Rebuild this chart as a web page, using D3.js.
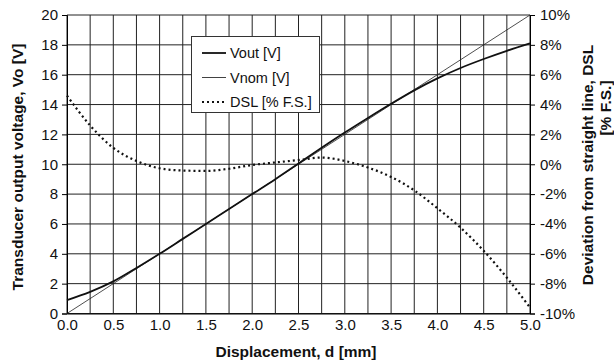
<!DOCTYPE html>
<html>
<head>
<meta charset="utf-8">
<script src="https://d3js.org/d3.v7.min.js"></script>
<style>
  body { margin: 0; background: #fff; }
  text { font-family: "Liberation Sans", Arial, sans-serif; }
</style>
</head>
<body>
<div id="container"></div>
<script>
  // svg dimensions
  width = 614
  height = 364

  // data
  var displacement = [0, 0.25, 0.5, 0.75, 1.0, 1.25, 1.5, 1.75, 2.0, 2.25, 2.5,
                      2.75, 3.0, 3.25, 3.5, 3.75, 4.0, 4.25, 4.5, 4.75, 5.0];
  var vout = [0.9, 1.45, 2.15, 3.05, 4.0, 5.0, 6.0, 7.0, 8.0, 9.0, 10.05,
              11.1, 12.12, 13.1, 14.05, 14.95, 15.75, 16.45, 17.05, 17.6, 18.1];
  var vnomEnds = [0, 5];
  var vnom = [0, 20];
  var dsl = [4.6, 2.6, 1.1, 0.22, -0.27, -0.42, -0.45, -0.3, -0.05, 0.12, 0.28,
             0.45, 0.22, -0.22, -0.85, -1.75, -2.95, -4.25, -5.8, -7.6, -9.6];

  var xTicks = [0, 0.5, 1.0, 1.5, 2.0, 2.5, 3.0, 3.5, 4.0, 4.5, 5.0];
  var xGrid = d3.range(0, 5.001, 0.25);
  var yTicks = [0, 2, 4, 6, 8, 10, 12, 14, 16, 18, 20];
  var y2Ticks = [-10, -8, -6, -4, -2, 0, 2, 4, 6, 8, 10];

  var legendNames = ["Vout [V]", "Vnom [V]", "DSL [% F.S.]"];

  // plot area (note: "top" is taken by window.top)
  var pLeft = 67, pRight = 530, pTop = 15, pBottom = 313.5;

  var x = d3.scaleLinear().domain([0, 5]).range([pLeft, pRight]);
  var y = d3.scaleLinear().domain([0, 20]).range([pBottom, pTop]);
  var y2 = d3.scaleLinear().domain([-10, 10]).range([pBottom, pTop]);

  var svg = d3.select("#container").append("svg")
    .attr("width", width)
    .attr("height", height);

  // grid
  svg.append("g").selectAll("line").data(xGrid).join("line")
    .attr("x1", d => x(d)).attr("x2", d => x(d))
    .attr("y1", pTop).attr("y2", pBottom)
    .attr("stroke", "#222").attr("stroke-width", 1);
  svg.append("g").selectAll("line").data(yTicks).join("line")
    .attr("x1", pLeft).attr("x2", pRight)
    .attr("y1", d => y(d)).attr("y2", d => y(d))
    .attr("stroke", "#222").attr("stroke-width", 1);

  // axes
  var yAxis = d3.axisLeft(y).tickValues(yTicks).tickSize(5).tickPadding(4)
    .tickFormat(d3.format("d"));
  svg.append("g").attr("transform", "translate(" + pLeft + ",0)").call(yAxis)
    .call(g => g.selectAll("text").attr("font-size", 15).attr("fill", "#111")
      .attr("font-family", "Liberation Sans, Arial, sans-serif"));

  var y2Axis = d3.axisRight(y2).tickValues(y2Ticks).tickSize(5).tickPadding(5)
    .tickFormat(d => d + "%");
  svg.append("g").attr("transform", "translate(" + pRight + ",0)").call(y2Axis)
    .call(g => g.selectAll("text").attr("font-size", 15).attr("fill", "#111")
      .attr("font-family", "Liberation Sans, Arial, sans-serif"));

  var xAxis = d3.axisBottom(x).tickValues(xTicks).tickSize(0).tickPadding(6)
    .tickFormat(d3.format(".1f"));
  svg.append("g").attr("transform", "translate(0," + pBottom + ")").call(xAxis)
    .call(g => g.select(".domain").attr("stroke", "#000"))
    .call(g => g.selectAll("text").attr("font-size", 15).attr("fill", "#111")
      .attr("font-family", "Liberation Sans, Arial, sans-serif"));

  // lines
  var lineV = d3.line().x((d, i) => x(displacement[i])).y(d => y(d)).curve(d3.curveMonotoneX);
  var lineD = d3.line().x((d, i) => x(displacement[i])).y(d => y2(d)).curve(d3.curveMonotoneX);

  svg.append("path").datum(dsl)
    .attr("d", lineD)
    .attr("fill", "none")
    .attr("stroke", "#111")
    .attr("stroke-width", 2.2)
    .attr("stroke-dasharray", "2,3");

  svg.append("line")
    .attr("x1", x(vnomEnds[0])).attr("y1", y(vnom[0]))
    .attr("x2", x(vnomEnds[1])).attr("y2", y(vnom[1]))
    .attr("stroke", "#222").attr("stroke-width", 0.8);

  svg.append("path").datum(vout)
    .attr("d", lineV)
    .attr("fill", "none")
    .attr("stroke", "#111")
    .attr("stroke-width", 1.8);

  // legend
  var legend = svg.append("g");
  legend.append("rect")
    .attr("x", 191.5).attr("y", 36.5)
    .attr("width", 128).attr("height", 76)
    .attr("fill", "#fff").attr("stroke", "#333").attr("stroke-width", 1);
  var legendStyle = [
    {w: 1.8, dash: null},
    {w: 0.8, dash: null},
    {w: 2.2, dash: "2,3"}
  ];
  legendNames.forEach(function(name, i) {
    var ly = 53 + i * 24.5;
    legend.append("line")
      .attr("x1", 202).attr("x2", 226)
      .attr("y1", ly).attr("y2", ly)
      .attr("stroke", "#111")
      .attr("stroke-width", legendStyle[i].w)
      .attr("stroke-dasharray", legendStyle[i].dash);
    legend.append("text")
      .attr("x", 230).attr("y", ly + 5)
      .attr("font-size", 14.5)
      .attr("fill", "#111")
      .text(name);
  });

  // axis titles
  svg.append("text")
    .attr("transform", "translate(23,167) rotate(-90)")
    .attr("text-anchor", "middle")
    .attr("font-size", 15.5)
    .attr("font-weight", "bold")
    .attr("fill", "#111")
    .text("Transducer output voltage, Vo [V]");

  svg.append("text")
    .attr("transform", "translate(593,165) rotate(-90)")
    .attr("text-anchor", "middle")
    .attr("font-size", 15.5)
    .attr("font-weight", "bold")
    .attr("fill", "#111")
    .text("Deviation from straight line, DSL");
  svg.append("text")
    .attr("transform", "translate(611,108) rotate(-90)")
    .attr("text-anchor", "middle")
    .attr("font-size", 15.5)
    .attr("font-weight", "bold")
    .attr("fill", "#111")
    .text("[% F.S.]");

  svg.append("text")
    .attr("x", 296).attr("y", 357)
    .attr("text-anchor", "middle")
    .attr("font-size", 15.5)
    .attr("font-weight", "bold")
    .attr("fill", "#111")
    .text("Displacement, d [mm]");
</script>
</body>
</html>
